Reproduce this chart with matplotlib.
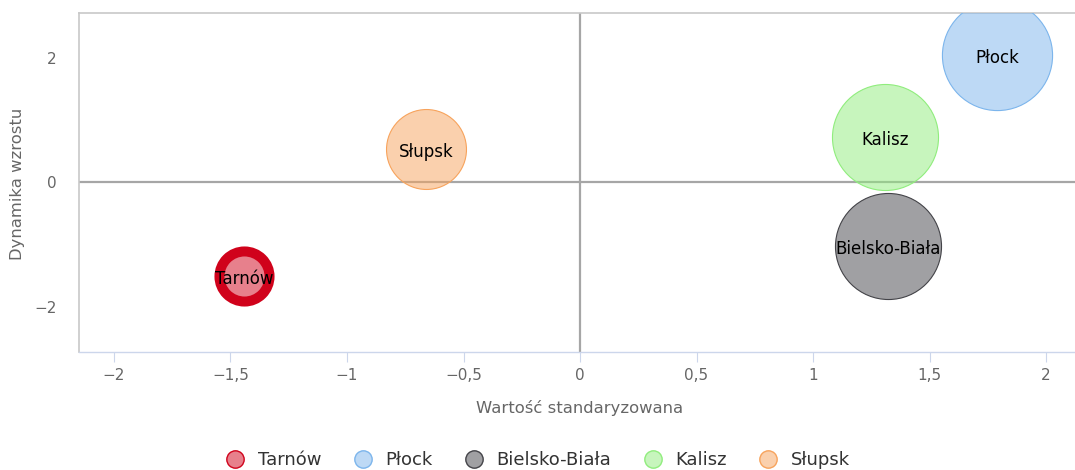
import numpy as np
import matplotlib
matplotlib.use('Agg')
import matplotlib.pyplot as plt
from matplotlib.lines import Line2D
from matplotlib.ticker import FuncFormatter, MultipleLocator

plt.rcParams['font.family'] = ['DejaVu Sans']

# dane
miasta = ['Tarnów', 'Płock', 'Bielsko-Biała', 'Kalisz', 'Słupsk']
wartosc_std = [-1.44, 1.79, 1.32, 1.31, -0.66]
dynamika = [-1.51, 2.04, -1.03, 0.72, 0.53]
wielkosc = [0.62, 3.0, 2.78, 2.78, 1.58]

kolory = ['#d0021b', '#7cb5ec', '#434348', '#90ed7d', '#f7a35c']
grubosc = [7.2, 0.8, 0.8, 0.8, 0.8]

W, H, DPI = 1075, 470, 100
fig = plt.figure(figsize=(W / DPI, H / DPI), dpi=DPI)
ax = fig.add_axes([79 / W, (H - 352) / H, (W - 79) / W, (352 - 13) / H])

ax.set_xlim(-2.15, 2.124)
ax.set_ylim(-2.73, 2.715)

ax.axhline(0, color='#a6a6a6', lw=1.6, zorder=1)
ax.axvline(0, color='#a6a6a6', lw=1.6, zorder=1)

px = 0.72  # punkty na piksel
for m, x, y, z, c, lw in zip(miasta, wartosc_std, dynamika, wielkosc, kolory, grubosc):
    r = 31.8 * np.sqrt(z)
    s = (2 * r * px) ** 2
    ax.scatter([x], [y], s=s, facecolors=[matplotlib.colors.to_rgba(c, 0.5)],
               edgecolors=[c], linewidths=lw, zorder=3)
    ax.text(x, y - 0.04, m, ha='center', va='center', fontsize=12, color='black', zorder=4)


def fmt(v, pos):
    s = ('%g' % v).replace('.', ',')
    return s.replace('-', '\u2212')


ax.xaxis.set_major_locator(MultipleLocator(0.5))
ax.yaxis.set_major_locator(MultipleLocator(2))
ax.xaxis.set_major_formatter(FuncFormatter(fmt))
ax.yaxis.set_major_formatter(FuncFormatter(fmt))

ax.tick_params(axis='x', direction='out', length=7.2, width=0.8, color='#ccd6eb',
               labelsize=11, labelcolor='#666666', pad=4)
ax.tick_params(axis='y', length=0, labelsize=11, labelcolor='#666666', pad=16)

for side in ['top', 'left']:
    ax.spines[side].set_color('#c8c8c8')
    ax.spines[side].set_linewidth(1.2)
ax.spines['bottom'].set_color('#ccd6eb')
ax.spines['bottom'].set_linewidth(1)
ax.spines['right'].set_visible(False)

fig.text(18 / W, 1 - 184 / H, 'Dynamika wzrostu', rotation=90, ha='center', va='center',
         fontsize=11.8, color='#666666')
fig.text(580 / W, 1 - 408 / H, 'Wartość standaryzowana', ha='center',
         va='center', fontsize=11.8, color='#666666')

uchwyty = [Line2D([0], [0], marker='o', linestyle='none', markersize=12.5,
                  markerfacecolor=matplotlib.colors.to_rgba(c, 0.5),
                  markeredgecolor=c, markeredgewidth=1) for c in kolory]
fig.legend(uchwyty, miasta, loc='center', bbox_to_anchor=(538 / W, 1 - 460 / H), ncol=5,
           frameon=False, fontsize=13, handletextpad=0.75, columnspacing=1.8,
           handlelength=1.0, labelcolor='#333333')

fig.savefig('out.png', dpi=DPI)
